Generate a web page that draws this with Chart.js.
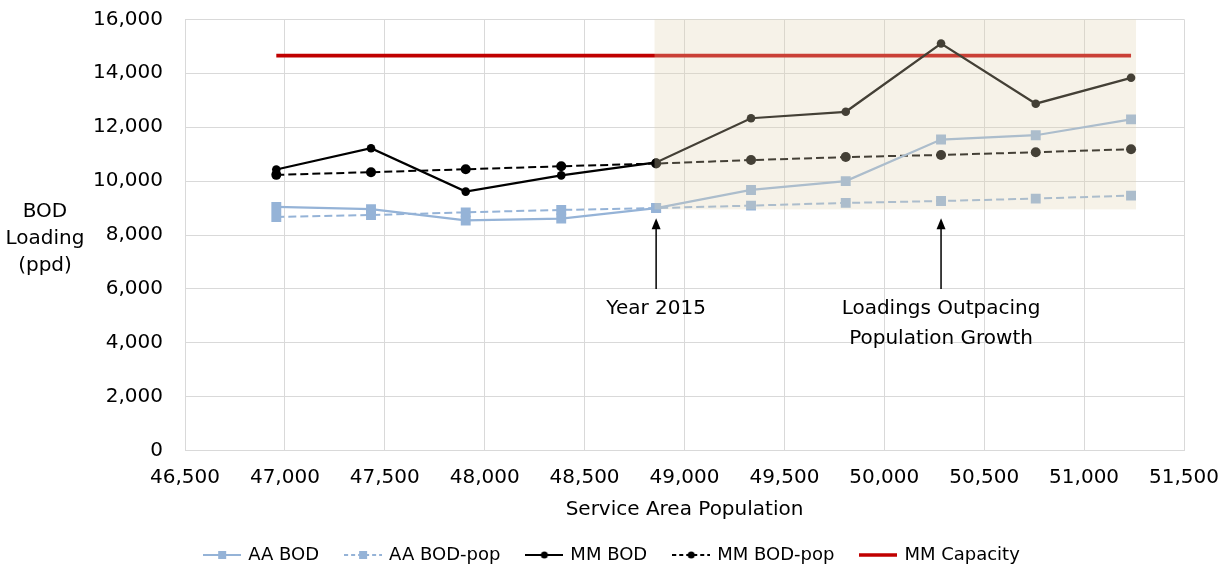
<!DOCTYPE html>
<html>
<head>
<meta charset="utf-8">
<title>BOD Loading vs Service Area Population</title>
<script src="https://cdn.jsdelivr.net/npm/chart.js@4.4.1/dist/chart.umd.min.js"></script>
<style>
  html, body { margin: 0; padding: 0; background: #ffffff; }
  #wrap { width: 1225px; height: 565px; position: relative; }
</style>
</head>
<body>
<div id="wrap"><canvas id="bodChart"></canvas></div>
<script>
// Service area population for each year
const population = [46957, 47431, 47905, 48383, 48858, 49333, 49807, 50284, 50758, 51235];

// BOD loadings (ppd)
const aaBod      = [9040, 8960, 8540, 8610, 9000, 9670, 10000, 11540, 11700, 12290];
const aaBodPop   = [8670, 8740, 8840, 8930, 9000, 9090, 9190, 9260, 9350, 9460];
const mmBod      = [10430, 11220, 9610, 10210, 10690, 12330, 12570, 15100, 12870, 13830];
const mmBodPop   = [10230, 10330, 10440, 10550, 10650, 10780, 10890, 10970, 11070, 11180];
const mmCapacity = [14650, 14650, 14650, 14650, 14650, 14650, 14650, 14650, 14650, 14650];

const seriesNames = ['AA BOD', 'AA BOD-pop', 'MM BOD', 'MM BOD-pop', 'MM Capacity'];

// Axis ranges
const xRange = [46500, 51500, 500];
const yRange = [0, 16000, 2000];
const yTitleLines = ['BOD', 'Loading', '(ppd)'];
const xTitle = 'Service Area Population';

// Highlighted period (population range, loading range)
const periodX = [48850, 51260];
const periodY = [8950, 16000];

// Callouts: population where each arrow points, arrow tip / base loadings, label lines
const calloutX = [48858, 50284];
const calloutTip = 8620;
const calloutBase = 6000;
const calloutText = [['Year 2015'], ['Loadings Outpacing', 'Population Growth']];

const FONT = '"DejaVu Sans", sans-serif';
const AA_COLOR = '#95b3d7';
const MM_COLOR = '#000000';
const CAP_COLOR = '#c00000';

const pts = (vals) => population.map((x, i) => ({ x: x, y: vals[i] }));

// Legend sample images: short line with marker
function legendSample(color, dash, marker, lineW) {
  const c = document.createElement('canvas');
  c.width = 38; c.height = 14;
  const g = c.getContext('2d');
  g.strokeStyle = color;
  g.lineWidth = lineW;
  g.setLineDash(dash);
  g.beginPath(); g.moveTo(0, 7); g.lineTo(38, 7); g.stroke();
  g.setLineDash([]);
  g.fillStyle = color;
  if (marker === 'rect') { g.fillRect(15, 3, 8, 8); }
  else if (marker === 'circle') { g.beginPath(); g.arc(19, 7, 3.5, 0, Math.PI * 2); g.fill(); }
  return c;
}
const legendImages = [
  legendSample(AA_COLOR, [], 'rect', 2),
  legendSample(AA_COLOR, [4, 3], 'rect', 2),
  legendSample(MM_COLOR, [], 'circle', 2),
  legendSample(MM_COLOR, [4, 3], 'circle', 2),
  legendSample(CAP_COLOR, [], null, 3.5)
];

// Keep the legend band a fixed height and centred on the full canvas width
const legendBandPlugin = {
  id: 'legendBand',
  beforeLayout(chart) {
    const lg = chart.legend;
    if (lg && !lg.__bandFixed) {
      const fit = lg.fit;
      lg.fit = function () { fit.call(this); this.height = 46; };
      lg.__bandFixed = true;
    }
  },
  afterLayout(chart) {
    const lg = chart.legend;
    if (lg) { lg.left = 0; lg.right = chart.width; lg.width = chart.width; }
  }
};

// Beige window over the later years, drawn semi-transparent on top of the series
const periodPlugin = {
  id: 'periodWindow',
  afterDatasetsDraw(chart) {
    const { ctx, scales: { x, y } } = chart;
    const l = x.getPixelForValue(periodX[0]);
    const r = x.getPixelForValue(periodX[1]);
    const t = y.getPixelForValue(periodY[1]);
    const b = y.getPixelForValue(periodY[0]);
    ctx.save();
    ctx.fillStyle = 'rgba(225, 212, 178, 0.3)';
    ctx.fillRect(l, t, r - l, b - t);
    ctx.restore();
  }
};

// Horizontal y-axis title and callout arrows
const textPlugin = {
  id: 'callouts',
  afterDraw(chart) {
    const { ctx, scales: { x, y } } = chart;
    ctx.save();
    ctx.fillStyle = '#000';
    ctx.font = '20px ' + FONT;
    ctx.textAlign = 'center';
    ctx.textBaseline = 'middle';
    const midY = (y.top + y.bottom) / 2;
    yTitleLines.forEach((s, i) => ctx.fillText(s, 45, midY + 4 + (i - 1) * 27));

    ctx.strokeStyle = '#000';
    ctx.lineWidth = 1.5;
    calloutX.forEach((val, k) => {
      const px = x.getPixelForValue(val);
      const tip = y.getPixelForValue(calloutTip);
      const base = y.getPixelForValue(calloutBase);
      ctx.beginPath();
      ctx.moveTo(px, base);
      ctx.lineTo(px, tip + 8);
      ctx.stroke();
      ctx.beginPath();
      ctx.moveTo(px, tip);
      ctx.lineTo(px - 4.5, tip + 11);
      ctx.lineTo(px + 4.5, tip + 11);
      ctx.closePath();
      ctx.fill();
      calloutText[k].forEach((s, i) => ctx.fillText(s, px, base + 20 + i * 30));
    });
    ctx.restore();
  }
};

new Chart(document.getElementById('bodChart'), {
  type: 'line',
  data: {
    datasets: [
      { label: seriesNames[0], data: pts(aaBod), borderColor: AA_COLOR, backgroundColor: AA_COLOR,
        borderWidth: 2.25, pointStyle: 'rect', pointRadius: 7, pointBorderWidth: 0, fill: false },
      { label: seriesNames[1], data: pts(aaBodPop), borderColor: AA_COLOR, backgroundColor: AA_COLOR,
        borderWidth: 2, borderDash: [8, 4], pointStyle: 'rect', pointRadius: 7, pointBorderWidth: 0, fill: false },
      { label: seriesNames[2], data: pts(mmBod), borderColor: MM_COLOR, backgroundColor: MM_COLOR,
        borderWidth: 2.25, pointStyle: 'circle', pointRadius: 4.3, pointBorderWidth: 0, fill: false },
      { label: seriesNames[3], data: pts(mmBodPop), borderColor: MM_COLOR, backgroundColor: MM_COLOR,
        borderWidth: 2, borderDash: [8, 4], pointStyle: 'circle', pointRadius: 5, pointBorderWidth: 0, fill: false },
      { label: seriesNames[4], data: pts(mmCapacity), borderColor: CAP_COLOR, backgroundColor: CAP_COLOR,
        borderWidth: 3.75, pointRadius: 0, fill: false }
    ]
  },
  options: {
    responsive: true,
    maintainAspectRatio: false,
    animation: false,
    layout: { autoPadding: false, padding: { left: 0, right: 41, top: 19.3, bottom: 0 } },
    plugins: {
      tooltip: { enabled: false },
      legend: {
        position: 'bottom',
        labels: {
          usePointStyle: true,
          pointStyleWidth: 34,
          padding: 27,
          color: '#000',
          font: { family: FONT, size: 18 },
          generateLabels(chart) {
            return chart.data.datasets.map((ds, i) => ({
              text: ds.label,
              pointStyle: legendImages[i],
              fillStyle: ds.borderColor,
              strokeStyle: ds.borderColor,
              lineWidth: 0,
              hidden: false,
              datasetIndex: i
            }));
          }
        }
      }
    },
    scales: {
      x: {
        type: 'linear',
        min: xRange[0], max: xRange[1],
        grid: { color: '#d9d9d9', drawTicks: false, lineWidth: 1 },
        border: { color: '#d9d9d9' },
        ticks: { stepSize: xRange[2], padding: 15, maxRotation: 0, autoSkip: false,
                 color: '#000', font: { family: FONT, size: 20 } },
        title: { display: true, text: xTitle, color: '#000',
                 font: { family: FONT, size: 20 }, padding: { top: 0, bottom: -3 } },
        afterFit(scale) { scale.paddingLeft = 0; scale.paddingRight = 0; scale.height = 68.3; }
      },
      y: {
        min: yRange[0], max: yRange[1],
        grid: { color: '#d9d9d9', drawTicks: false, lineWidth: 1 },
        border: { color: '#d9d9d9' },
        ticks: { stepSize: yRange[2], padding: 22, color: '#000', font: { family: FONT, size: 20 } },
        afterFit(scale) { scale.width = 185; scale.paddingTop = 0; scale.paddingBottom = 0; }
      }
    }
  },
  plugins: [legendBandPlugin, periodPlugin, textPlugin]
});
</script>
</body>
</html>
